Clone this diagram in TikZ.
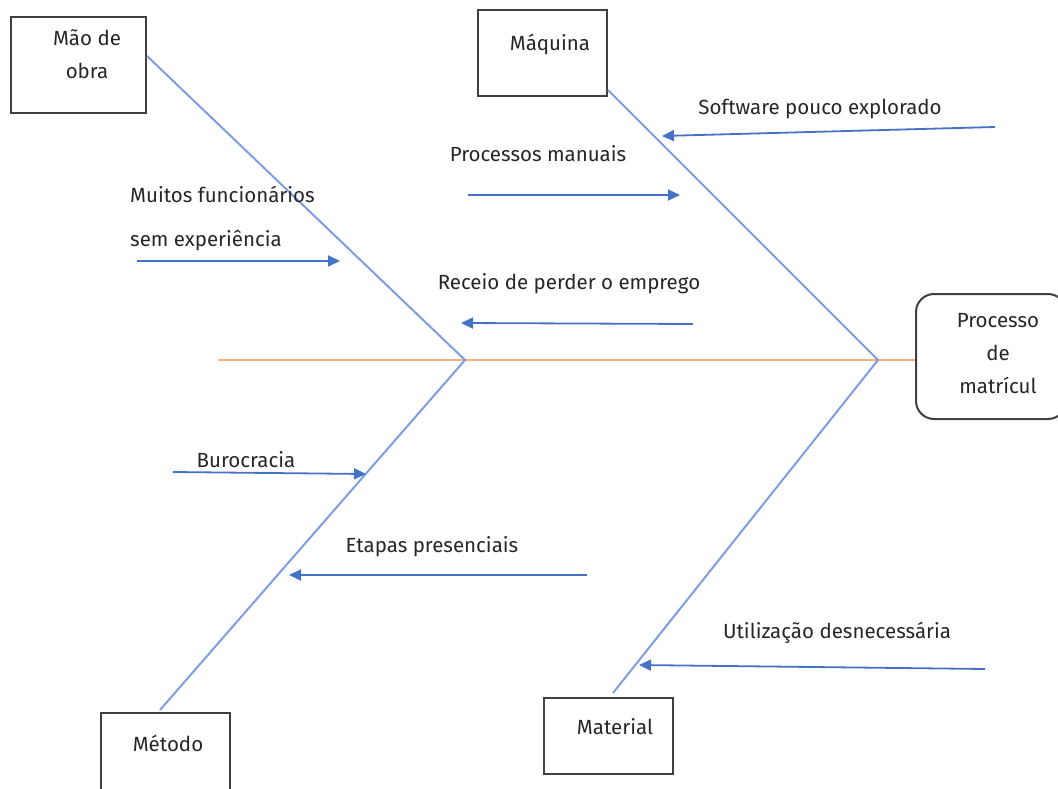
\documentclass[tikz,border=0pt]{standalone}
\usepackage{fontspec}
\setmainfont{Fira Sans}
\usetikzlibrary{arrows.meta}
\definecolor{bone}{HTML}{7E9EE0}
\definecolor{arr}{HTML}{4472C4}
\definecolor{spine}{HTML}{F4B183}
\definecolor{boxc}{HTML}{404040}
\begin{document}
\begin{tikzpicture}[x=1pt,y=-1pt,
  lbl/.style={font=\fontsize{20.5}{25}\selectfont,text=black!85,inner sep=0pt},
  catbox/.style={draw=boxc,line width=2pt,rectangle,inner sep=0pt},
  boneline/.style={draw=bone,line width=2pt},
  cause/.style={draw=arr,line width=1.8pt,-{Triangle[length=12pt,width=11pt]}},
  spineline/.style={draw=spine,line width=2pt}]
\useasboundingbox (0,0) rectangle (1058,789);
% category boxes
\node[catbox,minimum width=135pt,minimum height=96pt] (mao) at (78.5,65) {};
\node[lbl] (maot) at (87,57) {\begin{tabular}{@{}c@{}}Mão de\\[8pt]obra\end{tabular}};
\node[catbox,minimum width=129pt,minimum height=86pt] (maq) at (542.5,53) {};
\node[lbl] (maqt) at (550,44) {Máquina};
\node[catbox,minimum width=129pt,minimum height=100pt,anchor=north west] (met) at (100,712) {};
\node[lbl] (mett) at (168,743) {Método};
\node[catbox,minimum width=129pt,minimum height=76pt] (mat) at (608.5,736) {};
\node[lbl] (matt) at (615,727) {Material};
\node[draw=boxc,line width=2pt,rounded corners=18pt,minimum width=150pt,minimum height=125pt,anchor=north west] (proc) at (915,293) {};
\node[lbl] (proct) at (998,355) {\begin{tabular}{@{}c@{}}Processo\\[8pt]de\\[8pt]matrícul\end{tabular}};
% spine
\coordinate (tail) at (218,360);
\coordinate (j1) at (465,360);
\coordinate (j2) at (878,360);
\draw[spineline] (tail) -- (proc.west |- tail);
% bones
\coordinate (b1) at (147,56);
\coordinate (b2) at (608,90);
\coordinate (b3) at (160,710);
\coordinate (b4) at (613,693);
\draw[boneline] (b1) -- (j1) -- (b3);
\draw[boneline] (b2) -- (j2) -- (b4);
% causes
\node[lbl] (t1) at (820,109) {Software pouco explorado};
\coordinate (s1) at (995,127); \coordinate (e1) at (662,136);
\draw[cause] (s1) -- (e1);
\node[lbl] (t2) at (538,154) {Processos manuais};
\coordinate (s2) at (468,195); \coordinate (e2) at (680,195);
\draw[cause] (s2) -- (e2);
\node[lbl,anchor=west,align=left] (t3) at (130,218) {Muitos funcionários\\[19pt]sem experiência};
\coordinate (s3) at (137,261); \coordinate (e3) at (340,261);
\draw[cause] (s3) -- (e3);
\node[lbl] (t4) at (569,284) {Receio de perder o emprego};
\coordinate (s4) at (693,324); \coordinate (e4) at (461,323);
\draw[cause] (s4) -- (e4);
\node[lbl] (t5) at (246,460) {Burocracia};
\coordinate (s5) at (173,472); \coordinate (e5) at (366,474);
\draw[cause] (s5) -- (e5);
\node[lbl] (t6) at (432,547) {Etapas presenciais};
\coordinate (s6) at (587,575); \coordinate (e6) at (289,575);
\draw[cause] (s6) -- (e6);
\node[lbl] (t7) at (837,633) {Utilização desnecessária};
\coordinate (s7) at (985,669); \coordinate (e7) at (639,665);
\draw[cause] (s7) -- (e7);
\end{tikzpicture}
\end{document}
